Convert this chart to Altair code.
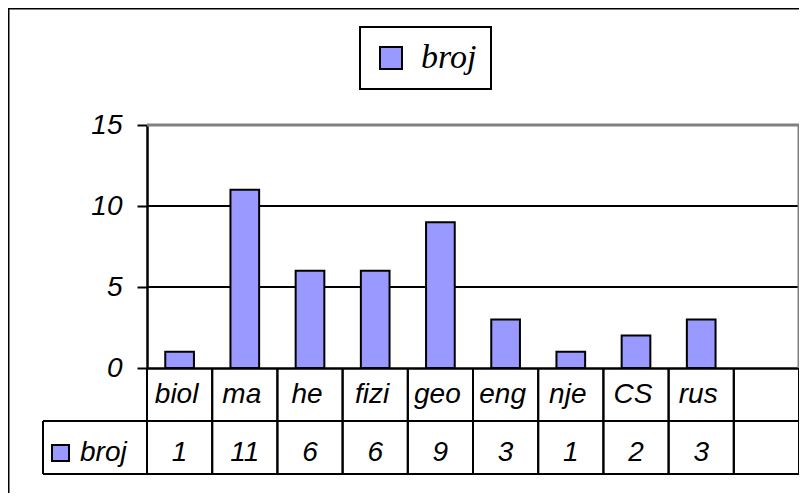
import altair as alt
import pandas as pd

# ---- data ----
categories = ["biol", "ma", "he", "fizi", "geo", "eng", "nje", "CS", "rus", " "]
counts = [1, 11, 6, 6, 9, 3, 1, 2, 3, None]
count_labels = ["1", "11", "6", "6", "9", "3", "1", "2", "3", ""]
series_name = "broj"
y_ticks = [0, 5, 10, 15]
grid_levels = [5, 10]

# ---- style ----
BAR = "#9999FF"
SANS = "Liberation Sans"
SERIF = "Liberation Serif"
W, H = 652, 243
PAD_L, PAD_T, PAD_B = 139, 117, 125
ROW = 53  # data-table row height

df = pd.DataFrame({
    "cat": categories,
    "val": counts,
    "lab": count_labels,
    "series": [series_name] * len(categories),
})
bars_df = df[df["val"].notna()].copy()
text_df = df[df["cat"].str.strip() != ""].copy()
grid_df = pd.DataFrame({"g": grid_levels})
one = pd.DataFrame({"series": [series_name]})

xscale = alt.Scale(domain=categories, paddingInner=0, paddingOuter=0)
yscale = alt.Scale(domain=[0, 15], nice=False)

X_AXIS = alt.Axis(labels=False, ticks=False, title=None,
                  domainColor="black", domainWidth=2.5)
Y_AXIS = alt.Axis(values=y_ticks, title=None, grid=False,
                  domainColor="black", domainWidth=2.5,
                  tickColor="black", tickWidth=2, tickSize=10,
                  labelFont=SANS, labelFontStyle="italic",
                  labelFontSize=28, labelColor="black",
                  labelPadding=15)


def xcat(band_pos=None):
    if band_pos is None:
        return alt.X("cat:N", scale=xscale, axis=X_AXIS)
    return alt.X("cat:N", scale=xscale, axis=X_AXIS, bandPosition=band_pos)


grid = alt.Chart(grid_df).mark_rule(color="black", strokeWidth=2).encode(
    y=alt.Y("g:Q", scale=yscale, axis=Y_AXIS)
)

bars = alt.Chart(bars_df).mark_bar(
    width=alt.RelativeBandSize(0.44), stroke="black", strokeWidth=2
).encode(
    x=xcat(),
    y=alt.Y("val:Q", scale=yscale, axis=Y_AXIS),
    color=alt.Color("series:N",
                    scale=alt.Scale(domain=[series_name], range=[BAR]),
                    legend=alt.Legend(title=None, orient="none",
                                      legendX=213, legendY=-98,
                                      strokeColor="black", fillColor="white",
                                      padding=14, symbolType="square",
                                      symbolSize=484, symbolStrokeColor="black",
                                      symbolStrokeWidth=2,
                                      labelFont=SERIF, labelFontStyle="italic",
                                      labelFontSize=34, labelColor="black",
                                      labelOffset=13,
                                      labelExpr="datum.label + ' '")),
)

# data table lines
vl0 = alt.Chart(df).mark_rule(color="black", strokeWidth=2).encode(
    x=xcat(0), y=alt.value(H), y2=alt.value(H + 2 * ROW),
)
vl1 = alt.Chart(df).mark_rule(color="black", strokeWidth=2).encode(
    x=xcat(1), y=alt.value(H), y2=alt.value(H + 2 * ROW),
)
hl1 = alt.Chart(one).mark_rule(color="black", strokeWidth=2).encode(
    x=alt.value(-104), x2=alt.value(W), y=alt.value(H + ROW))
hl2 = alt.Chart(one).mark_rule(color="black", strokeWidth=2).encode(
    x=alt.value(-104), x2=alt.value(W), y=alt.value(H + 2 * ROW))
vleft = alt.Chart(one).mark_rule(color="black", strokeWidth=2).encode(
    x=alt.value(-104), y=alt.value(H + ROW), y2=alt.value(H + 2 * ROW))

# data table text
cat_text = alt.Chart(text_df).mark_text(
    font=SANS, fontStyle="italic", fontSize=28, color="black",
    baseline="alphabetic", align="center", dx=-3
).encode(
    x=xcat(),
    y=alt.value(H + 35),
    text="cat:N",
)
val_text = alt.Chart(text_df).mark_text(
    font=SANS, fontStyle="italic", fontSize=28, color="black",
    baseline="alphabetic", align="center"
).encode(
    x=xcat(),
    y=alt.value(H + 93),
    text="lab:N",
)
row_label = alt.Chart(one).mark_text(
    font=SANS, fontStyle="italic", fontSize=28, color="black",
    baseline="alphabetic", align="left"
).encode(x=alt.value(-67), y=alt.value(H + 93), text="series:N")
row_swatch = alt.Chart(one).mark_rect(
    fill=BAR, stroke="black", strokeWidth=2
).encode(x=alt.value(-95), x2=alt.value(-78),
         y=alt.value(H + 77), y2=alt.value(H + 93))

# plot-area frame (gray top and right) and outer panel border
frame_top = alt.Chart(one).mark_rule(color="#808080", strokeWidth=3).encode(
    x=alt.value(0), x2=alt.value(W), y=alt.value(0))
frame_right = alt.Chart(one).mark_rule(color="#808080", strokeWidth=3).encode(
    x=alt.value(W), y=alt.value(0), y2=alt.value(H))
panel_top = alt.Chart(one).mark_rule(color="black", strokeWidth=3).encode(
    x=alt.value(-PAD_L), x2=alt.value(W), y=alt.value(-PAD_T))
panel_left = alt.Chart(one).mark_rule(color="black", strokeWidth=3).encode(
    x=alt.value(-PAD_L), y=alt.value(-PAD_T), y2=alt.value(H + PAD_B))

chart = alt.layer(
    grid, frame_top, frame_right, bars, vl0, vl1, hl1, hl2, vleft,
    cat_text, val_text, row_label, row_swatch, panel_top, panel_left
).properties(
    width=W, height=H,
    autosize=alt.AutoSizeParams(type="none"),
    padding={"left": PAD_L, "top": PAD_T, "right": 0, "bottom": PAD_B},
    background="white",
).configure_view(stroke=None).configure_legend(strokeWidth=2)

chart.save("out.html", embed_options={"renderer": "svg", "actions": False})
